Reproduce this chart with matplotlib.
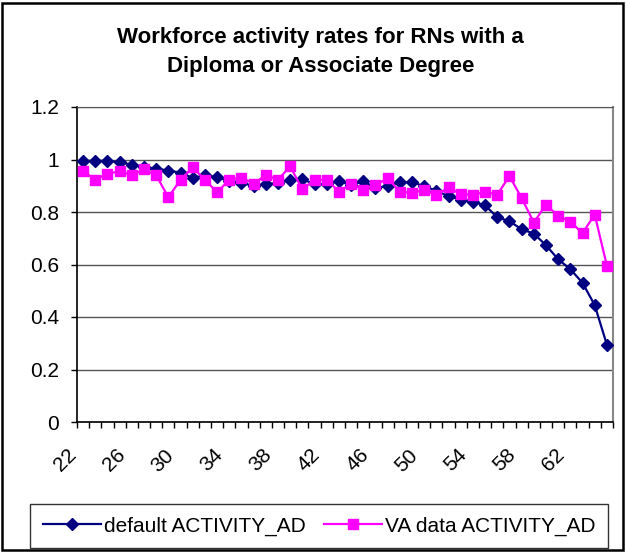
import matplotlib
matplotlib.use("Agg")
import matplotlib.pyplot as plt
from matplotlib.patches import Rectangle
from matplotlib.transforms import ScaledTranslation

# ages on the category axis
ages = [22, 23, 24, 25, 26, 27, 28, 29, 30, 31, 32, 33, 34, 35, 36, 37, 38, 39, 40, 41, 42, 43,
        44, 45, 46, 47, 48, 49, 50, 51, 52, 53, 54, 55, 56, 57, 58, 59, 60, 61, 62, 63, 64, 65]

default_ad = [0.995, 0.995, 0.995, 0.99, 0.98, 0.972, 0.965, 0.958, 0.95, 0.93, 0.94, 0.933,
              0.917, 0.91, 0.9, 0.906, 0.91, 0.922, 0.925, 0.906, 0.906, 0.917, 0.903, 0.917,
              0.892, 0.898, 0.914, 0.914, 0.898, 0.881, 0.86, 0.847, 0.84, 0.825, 0.78, 0.765,
              0.734, 0.718, 0.673, 0.62, 0.582, 0.53, 0.445, 0.294]

va_ad = [0.955, 0.923, 0.946, 0.955, 0.94, 0.962, 0.94, 0.856, 0.923, 0.97, 0.923, 0.875,
         0.923, 0.931, 0.908, 0.94, 0.923, 0.974, 0.886, 0.923, 0.923, 0.878, 0.906, 0.885,
         0.902, 0.929, 0.878, 0.872, 0.885, 0.863, 0.894, 0.868, 0.866, 0.876, 0.866, 0.937,
         0.853, 0.76, 0.828, 0.785, 0.762, 0.72, 0.79, 0.595]

label_every = 4

plt.rcParams['font.family'] = ['Liberation Sans', 'DejaVu Sans']

fig = plt.figure(figsize=(6.26, 5.52), dpi=100)
ax = fig.add_axes([77 / 626, 1 - 422 / 552, 536 / 626, 315 / 552])

x = list(range(len(ages)))
ax.plot(x, default_ad, color='#000080', lw=1.6, marker='D', ms=6.5,
        label='default ACTIVITY_AD', zorder=3)
ax.plot(x, va_ad, color='#FF00FF', lw=1.6, marker='s', ms=7.5,
        label='VA data ACTIVITY_AD', zorder=4)

ax.set_xlim(-0.5, len(ages) - 0.5)
ax.set_ylim(0, 1.2)
ax.set_yticks([0, 0.2, 0.4, 0.6, 0.8, 1.0, 1.2])
ax.set_yticklabels(['0', '0.2', '0.4', '0.6', '0.8', '1', '1.2'])
ax.yaxis.grid(True, color='#555555', lw=1.0)
ax.set_axisbelow(True)

# tick marks between categories, labels on every 4th category
ax.set_xticks([i - 0.5 for i in range(len(ages) + 1)])
ax.set_xticklabels([])
ax.set_xticks(x[::label_every], minor=True)
ax.set_xticklabels([str(a) for a in ages[::label_every]], minor=True,
                   rotation=45, ha='right', va='top', rotation_mode='anchor')
ax.tick_params(axis='x', which='major', length=4, width=1, direction='out')
ax.tick_params(axis='x', which='minor', length=0, pad=14, labelsize=15)
ax.tick_params(axis='y', length=4, width=1, pad=9, labelsize=15)

# Excel puts the rotated labels to the left of their category
shift = ScaledTranslation(-0.16, -0.04, fig.dpi_scale_trans)
for lab in ax.get_xticklabels(minor=True):
    lab.set_transform(lab.get_transform() + shift)

ax.spines['left'].set_linewidth(1.2)
ax.spines['bottom'].set_linewidth(1.2)
ax.spines['top'].set_color('#555555')
ax.spines['right'].set_color('#888888')
ax.spines['right'].set_linewidth(1.5)

fig.text(0.512, 1 - 52 / 552, 'Workforce activity rates for RNs with a\nDiploma or Associate Degree',
         ha='center', va='center', fontsize=16, fontweight='bold', linespacing=1.45)

fig.legend(loc='center', ncol=2, mode='expand', fontsize=15,
           bbox_to_anchor=(30 / 626, 1 - 546 / 552, 578 / 626, 40 / 552),
           frameon=True, fancybox=False, edgecolor='black', handlelength=2.8,
           handletextpad=0.15, borderpad=0.6, borderaxespad=0.0, columnspacing=0.3)

# outer chart border
fig.patches.append(Rectangle((2 / 626, 2 / 552), 621 / 626, 547 / 552,
                             transform=fig.transFigure, fill=False,
                             edgecolor='black', lw=1.8))

fig.savefig('out.png', dpi=100)
